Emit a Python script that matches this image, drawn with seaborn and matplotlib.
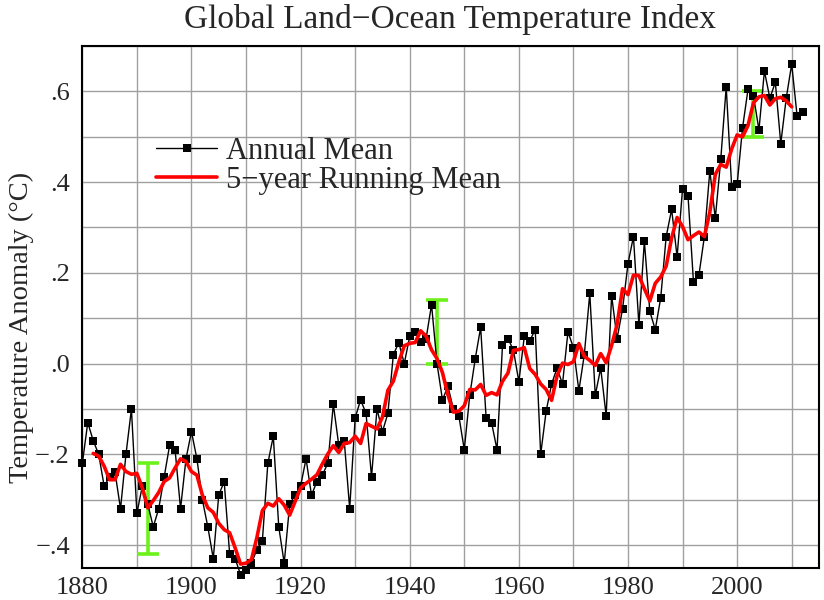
import matplotlib
matplotlib.use('Agg')
import matplotlib.pyplot as plt
import seaborn as sns
import pandas as pd
from matplotlib.ticker import MultipleLocator, FuncFormatter

# annual global land-ocean temperature anomaly (deg C)
years = list(range(1880, 2013))
anomaly = [
    -0.22, -0.13, -0.17, -0.20, -0.27, -0.25, -0.24, -0.32, -0.20, -0.10,   # 1880s
    -0.33, -0.27, -0.31, -0.36, -0.32, -0.25, -0.18, -0.19, -0.32, -0.21,   # 1890s
    -0.15, -0.21, -0.30, -0.36, -0.43, -0.29, -0.26, -0.42, -0.43, -0.465,  # 1900s
    -0.455, -0.44, -0.41, -0.39, -0.22, -0.16, -0.36, -0.44, -0.31, -0.29,  # 1910s
    -0.27, -0.21, -0.29, -0.26, -0.245, -0.22, -0.09, -0.18, -0.17, -0.32,  # 1920s
    -0.12, -0.08, -0.11, -0.25, -0.10, -0.15, -0.11, 0.02, 0.046, 0.0,      # 1930s
    0.06, 0.07, 0.047, 0.055, 0.13, 0.0, -0.08, -0.05, -0.10, -0.115,       # 1940s
    -0.19, -0.07, 0.01, 0.08, -0.12, -0.13, -0.19, 0.04, 0.055, 0.03,       # 1950s
    -0.04, 0.06, 0.05, 0.075, -0.20, -0.105, -0.045, -0.01, -0.045, 0.07,   # 1960s
    0.035, -0.06, 0.02, 0.155, -0.07, -0.01, -0.115, 0.15, 0.055, 0.12,     # 1970s
    0.22, 0.28, 0.085, 0.27, 0.115, 0.075, 0.145, 0.28, 0.34, 0.235,        # 1980s
    0.385, 0.37, 0.18, 0.195, 0.28, 0.425, 0.32, 0.45, 0.61, 0.39,          # 1990s
    0.395, 0.52, 0.605, 0.59, 0.515, 0.645, 0.585, 0.62, 0.485, 0.585,      # 2000s
    0.66, 0.545, 0.555,                                                     # 2010s
]

# uncertainty bars
err_years = [1892, 1945, 2003]
err_center = [-0.32, 0.07, 0.55]
err_half = [0.10, 0.07, 0.05]

df = pd.DataFrame({'year': years, 'anomaly': anomaly})
df['running'] = df['anomaly'].rolling(5, center=True).mean()

sns.set_style('white')
plt.rcParams['font.family'] = ['Liberation Serif', 'DejaVu Serif']
plt.rcParams['axes.unicode_minus'] = True

fig = plt.figure(figsize=(8.24, 6), dpi=100)
ax = fig.add_axes([0.0999, 0.0538, 0.894, 0.8695])

ax.errorbar(
    err_years, err_center, yerr=err_half,
    fmt='none', ecolor='#6cf21a', elinewidth=2.6,
    capsize=8, capthick=2.6, zorder=2
)

sns.lineplot(
    data=df, x='year', y='anomaly', ax=ax,
    color='black', linewidth=1.0, marker='s', markersize=6,
    markeredgewidth=0, label='Annual Mean', clip_on=False, zorder=3
)

sns.lineplot(
    data=df.dropna(), x='year', y='running', ax=ax,
    color='red', linewidth=2.6, label='5\u2212year Running Mean', zorder=4
)

ax.set_xlim(1880, 2015)
ax.set_ylim(-0.45, 0.70)

ax.xaxis.set_major_locator(MultipleLocator(20))
ax.xaxis.set_minor_locator(MultipleLocator(10))
ax.yaxis.set_major_locator(MultipleLocator(0.2))
ax.yaxis.set_minor_locator(MultipleLocator(0.1))


def fmt_y(v, pos):
    s = f'{abs(v):.1f}'.lstrip('0')
    return ('\u2212' + s) if v < -1e-9 else s


ax.yaxis.set_major_formatter(FuncFormatter(fmt_y))
ax.xaxis.set_major_formatter(FuncFormatter(lambda v, p: f'{int(round(v))}'))

ax.grid(which='both', color='#a0a0a0', linewidth=1.0)
ax.set_axisbelow(True)
ax.tick_params(which='both', length=0, labelsize=19)
ax.tick_params(axis='x', pad=7)
ax.tick_params(axis='y', pad=9)

for sp in ax.spines.values():
    sp.set_color('black')
    sp.set_linewidth(1.5)
    sp.set_visible(True)

ax.set_xlabel('')
ax.set_ylabel('Temperature Anomaly (\u00b0C)', fontsize=20.5)
ax.yaxis.set_label_coords(-0.066, 0.46)

fig.text(0.5465, 0.968, 'Global Land\u2212Ocean Temperature Index',
         ha='center', va='center', fontsize=24)

ax.legend(
    loc='upper left', bbox_to_anchor=(0.100, 0.826), frameon=False,
    fontsize=22, handlelength=2.0, handletextpad=0.3,
    labelspacing=0.0, borderpad=0, borderaxespad=0
)

fig.savefig('out.png', dpi=100)
